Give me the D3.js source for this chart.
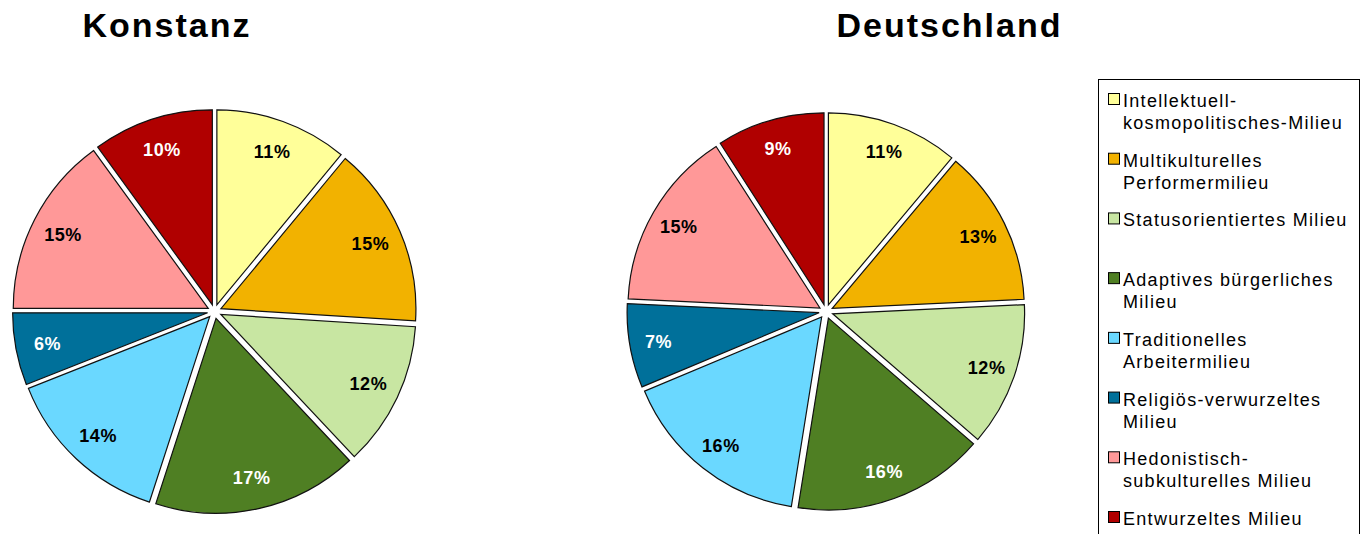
<!DOCTYPE html>
<html>
<head>
<meta charset="utf-8">
<script src="https://cdn.jsdelivr.net/npm/d3@7"></script>
<style>
  html, body { margin: 0; padding: 0; background: #fff; }
  svg { display: block; font-family: "Liberation Sans", Arial, sans-serif; }
</style>
</head>
<body>
<svg id="chart" width="1364" height="534"></svg>
<script>
// Milieu categories (legend order = slice order, clockwise from 12 o'clock)
const categories = [
  "Intellektuell-|kosmopolitisches-Milieu",
  "Multikulturelles|Performermilieu",
  "Statusorientiertes Milieu",
  "Adaptives bürgerliches|Milieu",
  "Traditionelles|Arbeitermilieu",
  "Religiös-verwurzeltes|Milieu",
  "Hedonistisch-|subkulturelles Milieu",
  "Entwurzeltes Milieu"
];
const colors = ["#FFFF99", "#F2B200", "#C8E6A2", "#4F7F23", "#6AD8FF", "#00709A", "#FF9898", "#B00000"];
const labelColors = ["#000", "#000", "#000", "#fff", "#000", "#fff", "#000", "#fff"];

// Percentage shares per region
const konstanz = [11, 15, 12, 17, 14, 6, 15, 10];
const deutschland = [11, 13, 12, 16, 16, 7, 15, 9];

const titles = ["Konstanz", "Deutschland"];

const svg = d3.select("#chart");

const pies = [
  { title: titles[0], values: konstanz, cx: 214.5, cy: 311.5, r: 195, titleX: 167 },
  { title: titles[1], values: deutschland, cx: 826, cy: 311.5, r: 192, titleX: 949.5 }
];

const explode = 7;      // slice offset from the centre
const labelDist = 170;  // label distance from the centre

const pie = d3.pie().sort(null).value(d => d);

pies.forEach(p => {
  svg.append("text")
    .attr("x", p.titleX)
    .attr("y", 37)
    .attr("text-anchor", "middle")
    .attr("font-size", 34)
    .attr("font-weight", "bold")
    .attr("letter-spacing", "2px")
    .attr("fill", "#000")
    .text(p.title);

  const arc = d3.arc().innerRadius(0).outerRadius(p.r);
  const g = svg.append("g").attr("transform", `translate(${p.cx},${p.cy})`);
  const arcs = pie(p.values);

  const slice = g.selectAll("g.slice").data(arcs).enter().append("g")
    .attr("class", "slice")
    .attr("transform", d => {
      const mid = (d.startAngle + d.endAngle) / 2;
      return `translate(${explode * Math.sin(mid)},${-explode * Math.cos(mid)})`;
    });

  slice.append("path")
    .attr("d", arc)
    .attr("fill", (d, i) => colors[i])
    .attr("stroke", "#111")
    .attr("stroke-width", 1.2)
    .attr("stroke-linejoin", "miter");

  g.selectAll("text.lbl").data(arcs).enter().append("text")
    .attr("class", "lbl")
    .attr("x", d => labelDist * Math.sin((d.startAngle + d.endAngle) / 2))
    .attr("y", d => -labelDist * Math.cos((d.startAngle + d.endAngle) / 2))
    .attr("dy", "0.36em")
    .attr("text-anchor", "middle")
    .attr("font-size", 18)
    .attr("font-weight", "bold")
    .attr("letter-spacing", "0.6px")
    .attr("fill", (d, i) => labelColors[i])
    .text(d => d.data + "%");
});

// Legend
const legend = svg.append("g");
legend.append("rect")
  .attr("x", 1098.5).attr("y", 79.5)
  .attr("width", 261).attr("height", 470)
  .attr("fill", "#fff").attr("stroke", "#000").attr("stroke-width", 1);

const itemY = d3.scaleLinear().domain([0, categories.length - 1]).range([107, 525]);

categories.forEach((c, i) => {
  const y = itemY(i);
  legend.append("rect")
    .attr("x", 1108.5).attr("y", y - 13.5)
    .attr("width", 11).attr("height", 11)
    .attr("fill", colors[i]).attr("stroke", "#000").attr("stroke-width", 1);
  const t = legend.append("text")
    .attr("x", 1123).attr("y", y)
    .attr("font-size", 18)
    .attr("letter-spacing", "1.3px")
    .attr("fill", "#000");
  c.split("|").forEach((line, k) => {
    t.append("tspan").attr("x", 1123).attr("dy", k === 0 ? 0 : 22).text(line);
  });
});
</script>
</body>
</html>
